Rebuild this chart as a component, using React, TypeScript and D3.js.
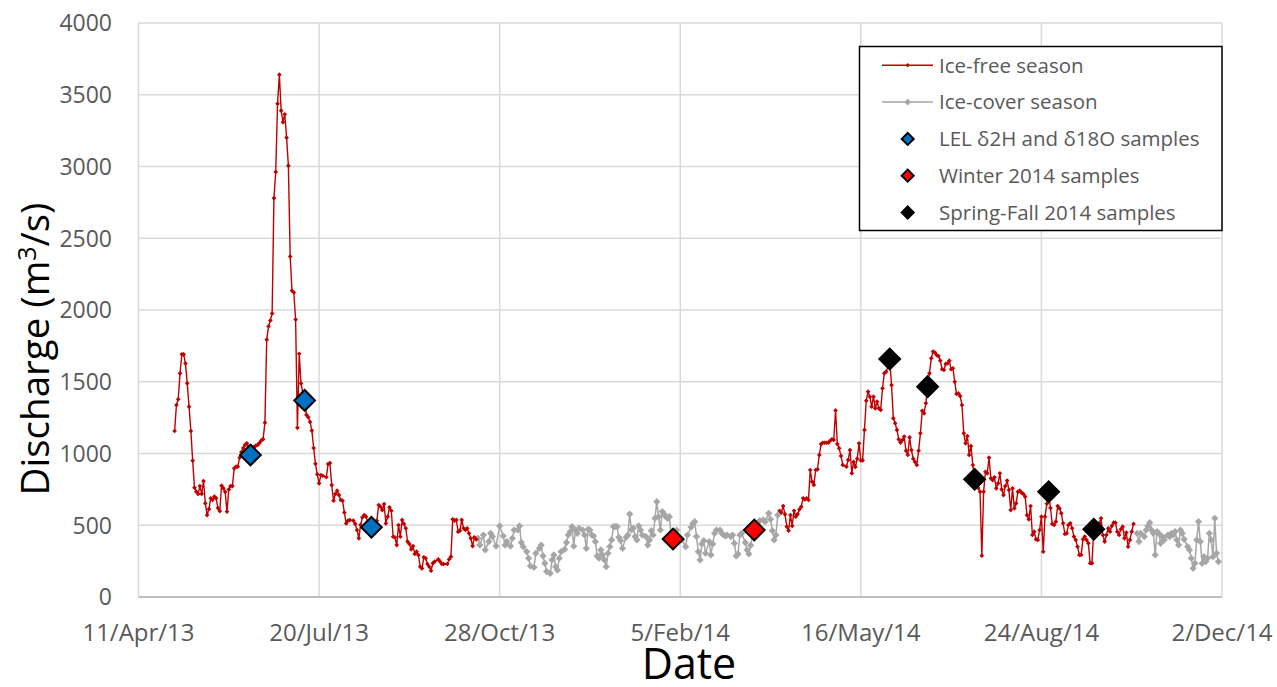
import React from 'react';
import * as d3 from 'd3';

// Daily river discharge, [day of record counted from 11 Apr 2013, discharge m³/s]
const START = new Date(2013, 3, 11);

const iceFree2013: [number, number][] = [
  [20,1157],[21,1338],[22,1378],[23,1559],[24,1691],[25,1691],[26,1628],[27,1489],[28,1326],[29,1157],
  [30,950],[31,762],[32,734],[33,718],[34,773],[35,718],[36,808],[37,653],[38,571],[39,613],
  [40,688],[41,676],[42,700],[43,688],[44,620],[45,599],[46,776],[47,757],[48,733],[49,595],
  [50,750],[51,773],[52,773],[53,897],[54,908],[55,908],[56,971],[57,1010],[58,1038],[59,1060],
  [60,1071],[61,1045],[62,1000],[63,1040],[64,1045],[65,1055],[66,1060],[67,1074],[68,1091],[69,1100],
  [70,1215],[71,1793],[72,1886],[73,1927],[74,1976],[75,2780],[76,2962],[77,3438],[78,3640],[79,3389],
  [80,3309],[81,3364],[82,3201],[83,3006],[84,2373],[85,2134],[86,2122],[87,1934],[88,1179],[89,1695],
  [90,1488],[91,1420],[92,1370],[93,1269],[94,1253],[95,1220],[96,1160],[97,1038],[98,928],[99,855],
  [100,792],[101,850],[102,845],[104,835],[105,927],[106,934],[107,780],[108,671],[109,718],[110,741],
  [111,710],[112,676],[113,671],[114,588],[115,513],[116,532],[117,536],[119,532],[120,509],[121,467],
  [122,409],[123,502],[124,555],[125,571],[126,560],[127,520],[128,495],[129,486],[130,500],[131,520],
  [132,532],[133,641],[134,629],[135,606],[136,648],[137,513],[138,560],[139,625],[140,601],[141,420],
  [142,416],[143,362],[144,501],[145,420],[146,537],[147,509],[148,479],[149,386],[150,370],[151,332],
  [152,355],[153,300],[154,316],[155,292],[156,211],[157,199],[158,277],[159,270],[160,230],[161,211],
  [162,183],[163,235],[164,247],[166,263],[167,247],[168,230],[169,230],[171,230],[172,263],[173,281],
  [174,541],[175,532],[176,537],[177,455],[178,462],[179,537],[180,479],[181,467],[182,479],[183,444],
  [184,409],[185,355],[186,416],[187,402],
];

const iceCover2013: [number, number][] = [
  [188,409],[189,362],[191,432],[192,328],[194,386],[195,444],[196,421],[198,355],[200,495],[202,425],
  [203,362],[204,386],[206,355],[207,409],[208,467],[210,467],[211,495],[212,379],[213,351],[215,316],
  [216,270],[217,216],[219,207],[220,305],[222,339],[223,362],[224,286],[225,235],[226,177],[228,165],
  [229,258],[230,293],[231,211],[232,188],[233,270],[234,316],[236,332],[237,379],[238,432],[239,455],
  [240,490],[241,355],[242,467],[243,444],[244,479],[246,467],[247,432],[248,339],[249,472],[250,467],
  [251,432],[252,425],[253,386],[254,286],[255,270],[256,328],[257,293],[258,258],[259,211],[260,305],
  [261,351],[262,398],[263,490],[264,490],[265,490],[266,416],[267,393],[268,339],[270,416],[271,432],
  [272,578],[273,467],[274,479],[275,421],[276,398],[277,495],[278,467],[279,432],[281,421],[282,362],
  [283,398],[284,462],[285,432],[286,548],[287,664],[288,560],[289,467],[290,595],[291,578],[292,560],
  [293,548],[294,560],[295,421],[296,404],[297,430],[298,467],[301,398],[303,351],[304,432],[306,486],
  [307,513],[308,525],[309,421],[310,316],[311,258],[312,370],[313,393],[314,305],[316,386],[317,293],
  [318,370],[319,444],[320,467],[322,467],[323,444],[324,432],[325,425],[326,432],[328,421],[329,432],
  [330,374],[331,286],[332,300],[333,432],[334,444],[336,379],[337,328],[338,300],[339,360],[340,430],
  [341,467],[342,490],[343,502],[344,532],[346,537],[347,525],[349,583],[350,541],[351,462],[352,398],
  [353,432],[354,571],
];

const iceFree2014: [number, number][] = [
  [355,601],[356,588],[357,634],[358,576],[359,490],[360,462],[361,571],[362,495],[363,601],[364,560],
  [365,578],[366,611],[367,629],[368,688],[369,680],[370,688],[371,676],[372,885],[373,804],[374,781],
  [375,885],[376,890],[377,990],[378,1066],[379,1075],[380,1075],[381,1075],[382,1075],[383,1089],[384,1099],
  [385,1094],[386,1300],[387,1066],[388,1036],[389,983],[390,920],[392,908],[393,955],[394,1024],[395,862],
  [396,941],[397,906],[398,964],[399,1071],[400,952],[401,952],[402,1164],[403,1368],[404,1431],[405,1396],
  [406,1326],[407,1396],[408,1315],[409,1361],[410,1315],[411,1304],[412,1454],[413,1559],[414,1570],[415,1605],
  [416,1650],[417,1477],[418,1245],[419,1211],[420,1164],[421,1099],[422,1076],[423,1094],[424,1118],[425,1020],
  [426,990],[427,1113],[428,1024],[429,964],[430,941],[431,920],[432,1020],[433,1141],[434,1298],[435,1280],
  [436,1350],[437,1466],[438,1559],[439,1663],[440,1710],[441,1703],[442,1686],[443,1679],[444,1647],[445,1587],
  [446,1582],[447,1624],[448,1628],[449,1647],[450,1587],[451,1594],[452,1500],[453,1415],[454,1419],[455,1400],
  [456,1338],[457,1141],[458,1071],[459,1122],[460,990],[461,1052],[462,920],[463,820],[464,790],[465,760],
  [466,734],[467,288],[468,734],[469,873],[470,862],[471,971],[472,827],[473,815],[474,834],[475,757],
  [476,792],[477,862],[478,750],[479,710],[480,773],[481,811],[482,746],[483,606],[484,757],[485,618],
  [486,653],[487,734],[488,741],[489,727],[490,718],[491,699],[492,571],[493,541],[494,634],[495,432],
  [496,455],[497,402],[498,398],[499,467],[500,560],[501,316],[502,560],[503,650],[504,734],[505,620],
  [506,509],[507,502],[508,525],[509,634],[510,618],[511,583],[512,514],[513,439],[514,444],[515,502],
  [516,514],[517,479],[518,421],[519,398],[520,351],[521,293],[522,293],[523,402],[524,421],[525,398],
  [526,374],[527,235],[528,235],[529,472],[530,480],[531,479],[532,514],[533,548],[534,432],[535,386],
  [536,432],[537,479],[538,455],[539,495],[540,518],[541,518],[542,455],[543,432],[544,472],[545,490],
  [546,409],[547,449],[548,351],[549,398],[550,455],[551,509],
];

const iceCover2014: [number, number][] = [
  [553,444],[554,386],[555,444],[557,421],[558,467],[559,495],[560,518],[561,467],[562,444],[563,293],
  [564,455],[565,444],[566,374],[567,421],[568,398],[570,432],[571,421],[572,444],[573,432],[574,455],
  [575,398],[576,363],[577,467],[578,444],[579,402],[581,351],[582,328],[583,270],[584,200],[585,235],
  [586,398],[587,525],[588,386],[589,235],[590,281],[591,247],[592,270],[593,444],[594,398],[595,281],
  [596,548],[597,305],[598,247],
];

// Sampling dates (day of record) and discharge on those days
const lelSamples: [number, number][] = [[62,990],[92,1370],[129,486]];
const winterSamples: [number, number][] = [[296,404],[341,467]];
const springFallSamples: [number, number][] = [[416,1659],[437,1466],[463,820],[504,734],[529,472]];

const xTickDays = [0, 100, 200, 300, 400, 500, 600];
const xTickLabels = ['11/Apr/13', '20/Jul/13', '28/Oct/13', '5/Feb/14', '16/May/14', '24/Aug/14', '2/Dec/14'];
const yTicks = [0, 500, 1000, 1500, 2000, 2500, 3000, 3500, 4000];

const W = 1277;
const H = 687;
const FONT = '"Open Sans", sans-serif';
const TEXT = '#595959';
const RED = '#c00000';
const GRAY = '#a6a6a6';

const dayToDate = (d: number) => d3.timeDay.offset(START, d);

const x = d3.scaleTime().domain([dayToDate(0), dayToDate(600)]).range([138.5, 1222]);
const y = d3.scaleLinear().domain([0, 4000]).range([597, 23]);

const line = d3
  .line<[number, number]>()
  .x((p) => x(dayToDate(p[0])))
  .y((p) => y(p[1]));

// rotated square (Excel-style diamond)
const diamond = (area: number) => d3.symbol(d3.symbolSquare, area)() as string;

function Series({ data, color, width, markerArea }: { data: [number, number][]; color: string; width: number; markerArea: number }) {
  const m = diamond(markerArea);
  return (
    <g>
      <path d={line(data) as string} fill="none" stroke={color} strokeWidth={width} strokeLinejoin="round" />
      {data.map((p, i) => (
        <path key={i} d={m} fill={color} transform={`translate(${x(dayToDate(p[0]))},${y(p[1])}) rotate(45)`} />
      ))}
    </g>
  );
}

function Samples({ data, fill }: { data: [number, number][]; fill: string }) {
  const m = diamond(215);
  return (
    <g>
      {data.map((p, i) => (
        <path
          key={i}
          d={m}
          fill={fill}
          stroke="#000"
          strokeWidth={2}
          transform={`translate(${x(dayToDate(p[0]))},${y(p[1])}) rotate(45)`}
        />
      ))}
    </g>
  );
}

const legendItems = [
  { label: 'Ice-free season', kind: 'line', color: RED, area: 10 },
  { label: 'Ice-cover season', kind: 'line', color: GRAY, area: 22 },
  { label: 'LEL δ2H and δ18O samples', kind: 'marker', color: '#0070c0', area: 72 },
  { label: 'Winter 2014 samples', kind: 'marker', color: '#ff0000', area: 72 },
  { label: 'Spring-Fall 2014 samples', kind: 'marker', color: '#000000', area: 72 },
];

export default function App() {
  return (
    <svg
      width={W}
      height={H}
      style={{ position: 'absolute', left: 0, top: 0, background: '#fff' }}
      fontFamily={FONT}
    >
      <rect width={W} height={H} fill="#fff" />
      {/* gridlines */}
      {yTicks.map((t) => (
        <line key={t} x1={138.5} x2={1222} y1={y(t)} y2={y(t)} stroke={t === 0 ? '#bfbfbf' : '#d9d9d9'} strokeWidth={t === 0 ? 2 : 1.5} />
      ))}
      {xTickDays.map((d) => (
        <line key={d} x1={x(dayToDate(d))} x2={x(dayToDate(d))} y1={y(4000)} y2={y(0)} stroke="#d9d9d9" strokeWidth={1.5} />
      ))}
      <line x1={138.5} x2={1222} y1={y(0)} y2={y(0)} stroke="#bfbfbf" strokeWidth={2} />

      {/* y tick labels */}
      {yTicks.map((t) => (
        <text key={t} x={112} y={y(t)} dy="0.36em" textAnchor="end" fontSize={23} fill={TEXT}>
          {t}
        </text>
      ))}
      {/* x tick labels */}
      {xTickDays.map((d, i) => (
        <text key={d} x={x(dayToDate(d))} y={641} textAnchor="middle" fontSize={24} fill={TEXT}>
          {xTickLabels[i]}
        </text>
      ))}

      {/* axis titles */}
      <text x={689} y={679} textAnchor="middle" fontSize={43} fill="#000">
        Date
      </text>
      <text transform="translate(49,349) rotate(-90)" textAnchor="middle" fontSize={38.5} fill="#000">
        Discharge (m<tspan dy="-13" fontSize={25}>3</tspan>
        <tspan dy="13">/s)</tspan>
      </text>

      {/* discharge series */}
      <Series data={iceCover2013} color={GRAY} width={1.5} markerArea={26} />
      <Series data={iceCover2014} color={GRAY} width={1.5} markerArea={26} />
      <Series data={iceFree2013} color={RED} width={1.4} markerArea={11} />
      <Series data={iceFree2014} color={RED} width={1.4} markerArea={11} />

      {/* sampling events */}
      <Samples data={lelSamples} fill="#0070c0" />
      <Samples data={winterSamples} fill="#ff0000" />
      <Samples data={springFallSamples} fill="#000000" />

      {/* legend */}
      <g>
        <rect x={859.5} y={46.5} width={362.5} height={184} fill="#fff" stroke="#000" strokeWidth={1.5} />
        {legendItems.map((it, i) => {
          const cy = 65.3 + i * 36.8;
          return (
            <g key={it.label}>
              {it.kind === 'line' ? (
                <g>
                  <line x1={882} x2={933} y1={cy} y2={cy} stroke={it.color} strokeWidth={1.5} />
                  <path d={diamond(it.area)} fill={it.color} transform={`translate(907.7,${cy}) rotate(45)`} />
                </g>
              ) : (
                <path d={diamond(it.area)} fill={it.color} stroke="#000" strokeWidth={2} transform={`translate(907.7,${cy}) rotate(45)`} />
              )}
              <text x={939} y={cy} dy="0.36em" fontSize={20.5} fill={TEXT}>
                {it.label}
              </text>
            </g>
          );
        })}
      </g>
    </svg>
  );
}
